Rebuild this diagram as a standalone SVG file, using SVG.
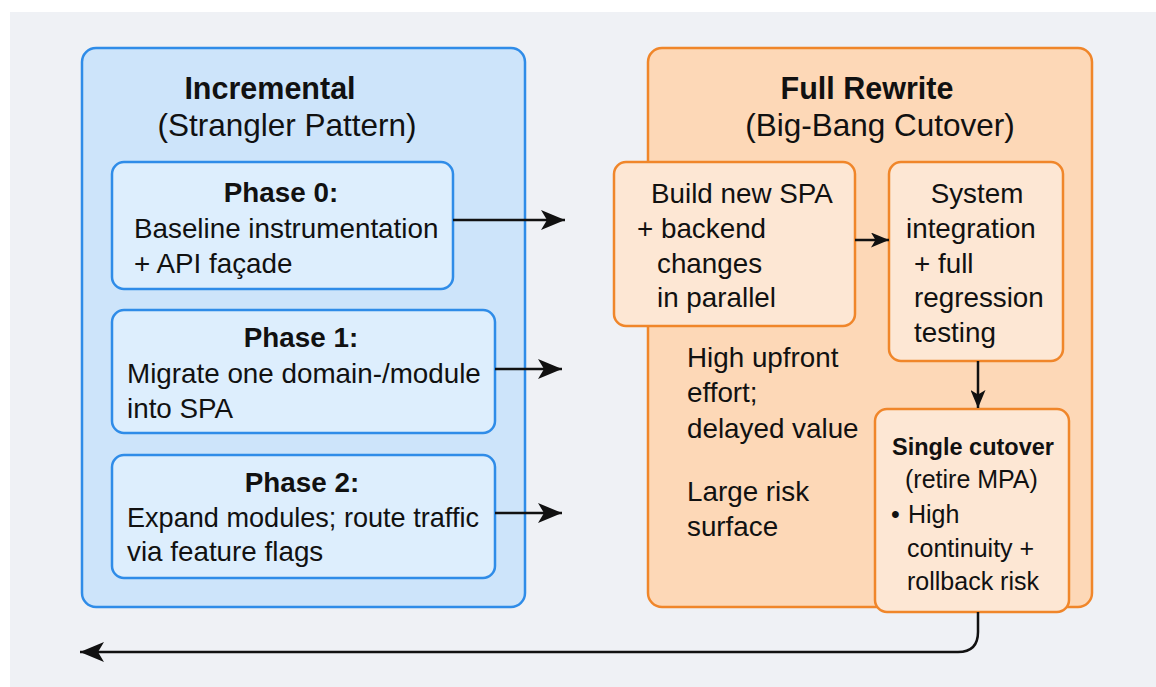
<svg xmlns="http://www.w3.org/2000/svg" width="1156" height="687" viewBox="0 0 1156 687">
<defs>
<style>
.t{font-family:"Liberation Sans",Arial,sans-serif;fill:#111;}
.b{font-size:27.8px;}
.h{font-size:31.5px;}
.hb{font-size:30.5px;font-weight:bold;}
.bold{font-weight:bold;}
.blueC{fill:#cde4fa;stroke:#2f8ce8;stroke-width:2.5;}
.blueI{fill:#ddeefd;stroke:#2f8ce8;stroke-width:2.5;}
.orC{fill:#fdd8b7;stroke:#f0862a;stroke-width:2.5;}
.orI{fill:#fde7d4;stroke:#f0862a;stroke-width:2.5;}
.c{fill:none;stroke:#111;stroke-width:2.5;}
</style>
<marker id="ah" viewBox="0 0 24 20" refX="24" refY="10" markerWidth="24" markerHeight="20" markerUnits="userSpaceOnUse" orient="auto">
<path d="M0,0 L24,10 L0,20 L6,10 z" fill="#111"/>
</marker>
<marker id="ahs" viewBox="0 0 24 20" refX="24" refY="10" markerWidth="18" markerHeight="15" markerUnits="userSpaceOnUse" orient="auto">
<path d="M0,0 L24,10 L0,20 L6,10 z" fill="#111"/>
</marker>
</defs>
<rect x="0" y="0" width="1156" height="687" fill="#ffffff"/>
<rect x="10" y="12" width="1146" height="675" fill="#eff1f5"/>

<g id="incremental">
<rect class="blueC" x="82" y="48" width="443" height="559" rx="14"/>
<text class="t hb" x="270" y="99" text-anchor="middle">Incremental</text>
<text class="t h" x="287" y="136" text-anchor="middle">(Strangler Pattern)</text>
</g>
<g id="phase0">
<rect class="blueI" x="112" y="162" width="341" height="127" rx="12"/>
<text class="t b bold" x="281" y="202" text-anchor="middle">Phase 0:</text>
<text class="t b" x="134" y="238">Baseline instrumentation</text>
<text class="t b" x="134" y="273">+ API façade</text>
</g>
<g id="phase1">
<rect class="blueI" x="112" y="310" width="383" height="123" rx="12"/>
<text class="t b bold" x="301" y="347" text-anchor="middle">Phase 1:</text>
<text class="t b" x="127" y="383">Migrate one domain-/module</text>
<text class="t b" x="127" y="418">into SPA</text>
</g>
<g id="phase2">
<rect class="blueI" x="112" y="455" width="383" height="123" rx="12"/>
<text class="t b bold" x="302" y="492" text-anchor="middle">Phase 2:</text>
<text class="t b" x="127" y="527" textLength="352" lengthAdjust="spacingAndGlyphs">Expand modules; route traffic</text>
<text class="t b" x="127" y="561">via feature flags</text>
</g>

<g id="fullrewrite">
<rect class="orC" x="648" y="48" width="444" height="559" rx="14"/>
<text class="t hb" x="867" y="99" text-anchor="middle">Full Rewrite</text>
<text class="t h" x="880" y="136" text-anchor="middle">(Big-Bang Cutover)</text>
<text class="t b" x="687" y="367">High upfront</text>
<text class="t b" x="687" y="402">effort;</text>
<text class="t b" x="687" y="438">delayed value</text>
<text class="t b" x="687" y="501">Large risk</text>
<text class="t b" x="687" y="536">surface</text>
</g>
<g id="build">
<rect class="orI" x="614" y="162" width="241" height="164" rx="12"/>
<text class="t b" x="651" y="203">Build new SPA</text>
<text class="t b" x="637" y="238">+ backend</text>
<text class="t b" x="657" y="273">changes</text>
<text class="t b" x="657" y="307">in parallel</text>
</g>
<g id="system">
<rect class="orI" x="889" y="162" width="174" height="199" rx="12"/>
<text class="t b" x="977" y="203" text-anchor="middle">System</text>
<text class="t b" x="906" y="238">integration</text>
<text class="t b" x="914" y="273">+ full</text>
<text class="t b" x="914" y="307">regression</text>
<text class="t b" x="914" y="342">testing</text>
</g>
<g id="cutover">
<rect class="orI" x="875" y="409" width="194" height="203" rx="12"/>
<text class="t bold" font-size="23.5" x="973" y="455" text-anchor="middle">Single cutover</text>
<text class="t" font-size="25" x="905" y="488">(retire MPA)</text>
<text class="t" font-size="25" x="891" y="523">•</text>
<text class="t" font-size="25" x="908" y="523">High</text>
<text class="t" font-size="25" x="907" y="557">continuity +</text>
<text class="t" font-size="25" x="907" y="590">rollback risk</text>
</g>

<g id="connectors">
<line class="c" x1="453" y1="220" x2="565" y2="220" marker-end="url(#ah)"/>
<line class="c" x1="495" y1="369" x2="562" y2="369" marker-end="url(#ah)"/>
<line class="c" x1="495" y1="513" x2="562" y2="513" marker-end="url(#ah)"/>
<line class="c" x1="855" y1="240" x2="889" y2="240" marker-end="url(#ahs)"/>
<line class="c" x1="978" y1="361" x2="978" y2="408" marker-end="url(#ahs)"/>
<path class="c" d="M978,612 V632 Q978,652 958,652 H80" marker-end="url(#ah)"/>
</g>
</svg>
